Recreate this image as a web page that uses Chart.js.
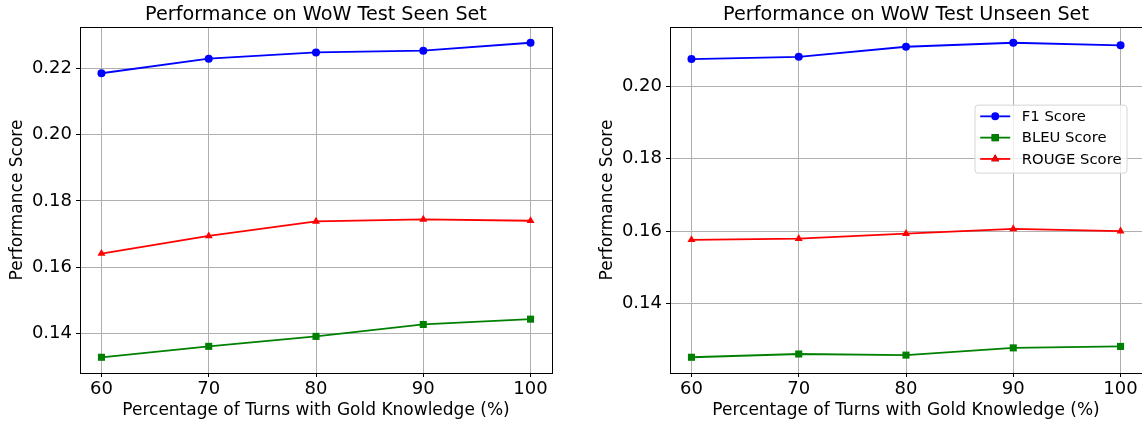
<!DOCTYPE html>
<html>
<head>
<meta charset="utf-8">
<script src="https://cdn.jsdelivr.net/npm/chart.js@4/dist/chart.umd.min.js"></script>
<style>
  html, body { margin: 0; padding: 0; background: #fff; overflow: hidden; }
  #wrap { position: relative; width: 1142px; height: 423px; overflow: hidden; }
  .box { position: absolute; top: 0; height: 423px; }
</style>
</head>
<body>
<div id="wrap">
  <div class="box" style="left:0;width:560px"><canvas id="seen"></canvas></div>
  <div class="box" style="left:590px;width:560px"><canvas id="unseen"></canvas></div>
</div>
<script>
// data
const percentages = [60, 70, 80, 90, 100];
const xTicks = [60, 70, 80, 90, 100];

const seenF1    = [0.2185, 0.2229, 0.2248, 0.2253, 0.2277];
const seenBleu  = [0.1328, 0.1361, 0.1391, 0.1427, 0.1443];
const seenRouge = [0.1641, 0.1694, 0.1738, 0.1744, 0.1740];
const seenTicks = [0.14, 0.16, 0.18, 0.20, 0.22];

const unseenF1    = [0.2076, 0.2082, 0.2110, 0.2121, 0.2114];
const unseenBleu  = [0.1251, 0.1260, 0.1257, 0.1277, 0.1281];
const unseenRouge = [0.1576, 0.1579, 0.1593, 0.1606, 0.1600];
const unseenTicks = [0.14, 0.16, 0.18, 0.20];

const seriesNames = ['F1 Score', 'BLEU Score', 'ROUGE Score'];

const FONT = "'DejaVu Sans', sans-serif";

// box around the plot area, like matplotlib spines
const framePlugin = {
  id: 'frame',
  afterDatasetsDraw(chart) {
    const ca = chart.chartArea, ctx = chart.ctx;
    ctx.save();
    ctx.strokeStyle = '#000';
    ctx.lineWidth = 1;
    ctx.strokeRect(Math.round(ca.left) + 0.5, Math.round(ca.top) + 0.5,
                   Math.round(ca.right - ca.left), Math.round(ca.bottom - ca.top));
    ctx.restore();
  }
};

// legend inside the axes (only on the right chart)
const innerLegend = {
  id: 'innerLegend',
  afterDraw(chart, args, opts) {
    if (!opts.show) return;
    const ca = chart.chartArea, ctx = chart.ctx;
    const w = 152, h = 68;
    const right = ca.right - 15.5, top = ca.top + 77.6;
    const left = right - w;
    ctx.save();
    ctx.beginPath();
    if (ctx.roundRect) ctx.roundRect(left + 0.5, top + 0.5, w, h, 3);
    else ctx.rect(left + 0.5, top + 0.5, w, h);
    ctx.fillStyle = 'rgba(255,255,255,0.8)';
    ctx.fill();
    ctx.strokeStyle = '#d5d5d5';
    ctx.lineWidth = 1;
    ctx.stroke();
    chart.data.datasets.forEach((ds, i) => {
      const y = top + 11.7 + i * 21.3;
      ctx.strokeStyle = ds.borderColor;
      ctx.lineWidth = ds.borderWidth;
      ctx.beginPath();
      ctx.moveTo(left + 5.7, y);
      ctx.lineTo(left + 35.7, y);
      ctx.stroke();
      Chart.helpers.drawPoint(ctx, {
        pointStyle: ds.pointStyle, radius: ds.pointRadius, rotation: 0, borderWidth: 0
      }, left + 20.7, y);
      ctx.fillStyle = ds.borderColor;
      ctx.fill();
      ctx.fillStyle = '#000';
      ctx.font = '14.8px ' + FONT;
      ctx.textBaseline = 'middle';
      ctx.textAlign = 'left';
      ctx.fillText(ds.label, left + 47.3, y + 1);
    });
    ctx.restore();
  }
};

function makeDataset(label, values, color, style, radius) {
  return {
    label: label,
    data: percentages.map((p, i) => ({ x: p, y: values[i] })),
    borderColor: color,
    backgroundColor: color,
    pointBackgroundColor: color,
    pointBorderColor: color,
    pointBorderWidth: 0,
    pointStyle: style,
    pointRadius: radius,
    borderWidth: 1.8,
    tension: 0
  };
}

function makeChart(id, title, f1, bleu, rouge, yTicks, showLegend) {
  const all = f1.concat(bleu, rouge);
  const lo = Math.min(...all), hi = Math.max(...all);
  const pad = (hi - lo) * 0.05;
  return new Chart(document.getElementById(id), {
    type: 'line',
    data: {
      datasets: [
        makeDataset(seriesNames[0], f1, '#0000ff', 'circle', 4),
        makeDataset(seriesNames[1], bleu, '#008000', 'rect', 5),
        makeDataset(seriesNames[2], rouge, '#ff0000', 'triangle', 4.6)
      ]
    },
    options: {
      responsive: true,
      maintainAspectRatio: false,
      animation: false,
      layout: { padding: { left: 0, right: 8, top: 0, bottom: 0 } },
      plugins: {
        legend: { display: false },
        tooltip: { enabled: false },
        title: {
          display: true,
          fullSize: false,
          text: title,
          color: '#000',
          font: { family: FONT, size: 19.2, weight: 'normal' },
          padding: { top: 3, bottom: 1 }
        },
        innerLegend: { show: showLegend }
      },
      scales: {
        x: {
          type: 'linear',
          min: 58, max: 102,
          afterBuildTicks: s => { s.ticks = xTicks.map(v => ({ value: v })); },
          afterFit: s => { s.height = 50; },
          grid: { color: '#b0b0b0', lineWidth: 1, tickColor: '#000', tickLength: 4 },
          border: { display: false },
          ticks: {
            color: '#000', padding: 2, maxRotation: 0,
            font: { family: FONT, size: 18 },
            callback: v => String(v)
          },
          title: {
            display: true,
            text: 'Percentage of Turns with Gold Knowledge (%)',
            color: '#000',
            font: { family: FONT, size: 17 },
            padding: { top: 0, bottom: 2 }
          }
        },
        y: {
          min: lo - pad, max: hi + pad,
          afterBuildTicks: s => { s.ticks = yTicks.map(v => ({ value: v })); },
          afterFit: s => { s.width = 80; },
          grid: { color: '#b0b0b0', lineWidth: 1, tickColor: '#000', tickLength: 4 },
          border: { display: false },
          ticks: {
            color: '#000', padding: 4,
            font: { family: FONT, size: 18 },
            callback: v => v.toFixed(2)
          },
          title: {
            display: true,
            text: 'Performance Score',
            color: '#000',
            font: { family: FONT, size: 17 },
            padding: { top: 7, bottom: 0 }
          }
        }
      }
    },
    plugins: [framePlugin, innerLegend]
  });
}

makeChart('seen', 'Performance on WoW Test Seen Set', seenF1, seenBleu, seenRouge, seenTicks, false);
makeChart('unseen', 'Performance on WoW Test Unseen Set', unseenF1, unseenBleu, unseenRouge, unseenTicks, true);
</script>
</body>
</html>
